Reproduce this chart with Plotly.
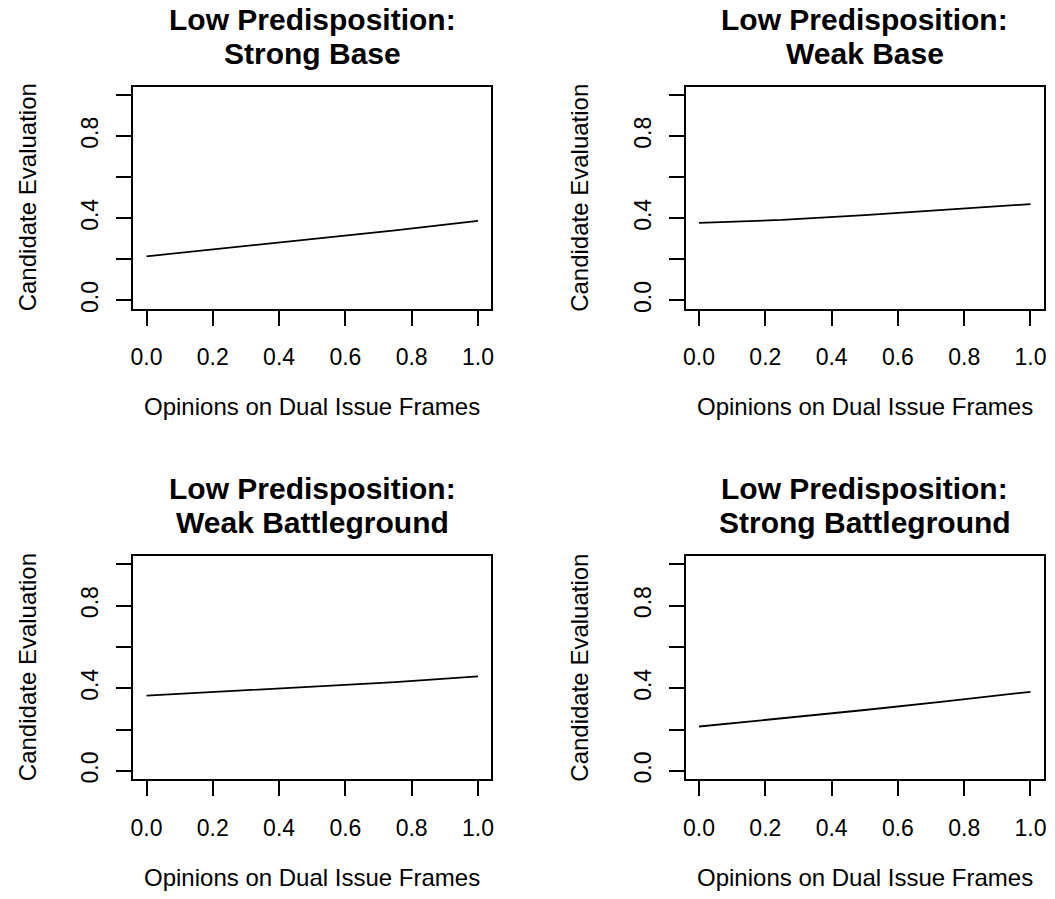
import plotly.graph_objects as go

# ---- data ----
x_vals = [0.0, 0.25, 0.5, 0.75, 1.0]
strong_base = [0.215, 0.256, 0.298, 0.341, 0.387]
weak_base = [0.378, 0.392, 0.415, 0.442, 0.469]
weak_battleground = [0.364, 0.386, 0.410, 0.430, 0.458]
strong_battleground = [0.215, 0.254, 0.295, 0.338, 0.383]

titles_line1 = ["Low Predisposition:"] * 4
titles_line2 = ["Strong Base", "Weak Base", "Weak Battleground", "Strong Battleground"]
series = [strong_base, weak_base, weak_battleground, strong_battleground]

x_ticks = [0.0, 0.2, 0.4, 0.6, 0.8, 1.0]
x_ticktext = ["0.0", "0.2", "0.4", "0.6", "0.8", "1.0"]
y_ticks = [0.0, 0.2, 0.4, 0.6, 0.8, 1.0]
y_ticktext = ["0.0", "", "0.4", "", "0.8", ""]

x_title = "Opinions on Dual Issue Frames"
y_title = "Candidate Evaluation"

# ---- layout geometry ----
W, H = 1055, 899
FONT = "Liberation Sans, Arial, Helvetica, sans-serif"
col_px = [(131.0, 491.0), (686.7, 1046.7)]
row_px = [(87.3, 310.0), (558.5, 782.7)]  # (top, bottom)
TITLE_SIZE = 30
AXT_SIZE = 24
TICK_SIZE = 23

fig = go.Figure()
layout = dict(
    width=W, height=H,
    margin=dict(l=0, r=0, t=0, b=0),
    paper_bgcolor="white", plot_bgcolor="white",
    showlegend=False,
    font=dict(family=FONT, color="black"),
)
annotations = []

for i in range(4):
    r, c = divmod(i, 2)
    left, right = col_px[c]
    top, bottom = row_px[r]
    xa = "xaxis" if i == 0 else f"xaxis{i+1}"
    ya = "yaxis" if i == 0 else f"yaxis{i+1}"
    xref = "x" if i == 0 else f"x{i+1}"
    yref = "y" if i == 0 else f"y{i+1}"

    fig.add_trace(go.Scatter(x=x_vals, y=series[i], mode="lines",
                             line=dict(color="black", width=1.8),
                             xaxis=xref, yaxis=yref, hoverinfo="skip"))

    common = dict(showgrid=False, zeroline=False, showline=True, mirror=True,
                  linecolor="black", linewidth=2, ticks="outside", ticklen=15,
                  tickwidth=2, tickcolor="black",
                  tickfont=dict(family=FONT, size=TICK_SIZE, color="black"))
    layout[xa] = dict(common, domain=[left / W, right / W], anchor=yref,
                      range=[-0.04, 1.04], tickmode="array", tickvals=x_ticks,
                      ticktext=x_ticktext, ticklabelstandoff=12)
    layout[ya] = dict(common, domain=[1 - bottom / H, 1 - top / H], anchor=xref,
                      range=[-0.04, 1.04], tickmode="array", tickvals=y_ticks,
                      ticktext=y_ticktext, tickangle=-90, ticklabelstandoff=9)

    cx = (left + right) / 2 / W
    # titles (two bold lines)
    b2 = top - 23.3
    b1 = b2 - 34.0
    for txt, base in ((titles_line1[i], b1), (titles_line2[i], b2)):
        annotations.append(dict(text=f"<b>{txt}</b>", x=cx,
                                y=1 - (base - 0.3465 * TITLE_SIZE) / H,
                                xref="paper", yref="paper", xanchor="center", yanchor="middle",
                                showarrow=False, borderpad=0,
                                font=dict(family=FONT, size=TITLE_SIZE, color="black")))
    # x-axis title
    xb = bottom + 107.0
    annotations.append(dict(text=x_title, x=cx, y=1 - (xb - 0.3465 * AXT_SIZE) / H,
                            xref="paper", yref="paper", xanchor="center", yanchor="middle",
                            showarrow=False, font=dict(family=FONT, size=AXT_SIZE, color="black")))
    # y-axis title
    yb = left - 98.0
    annotations.append(dict(text=y_title, x=(yb - 0.3465 * AXT_SIZE) / W,
                            y=1 - (top + bottom) / 2 / H,
                            xref="paper", yref="paper", xanchor="center", yanchor="middle",
                            textangle=-90, showarrow=False,
                            font=dict(family=FONT, size=AXT_SIZE, color="black")))

layout["annotations"] = annotations
fig.update_layout(**layout)
fig.write_html("out.html")
